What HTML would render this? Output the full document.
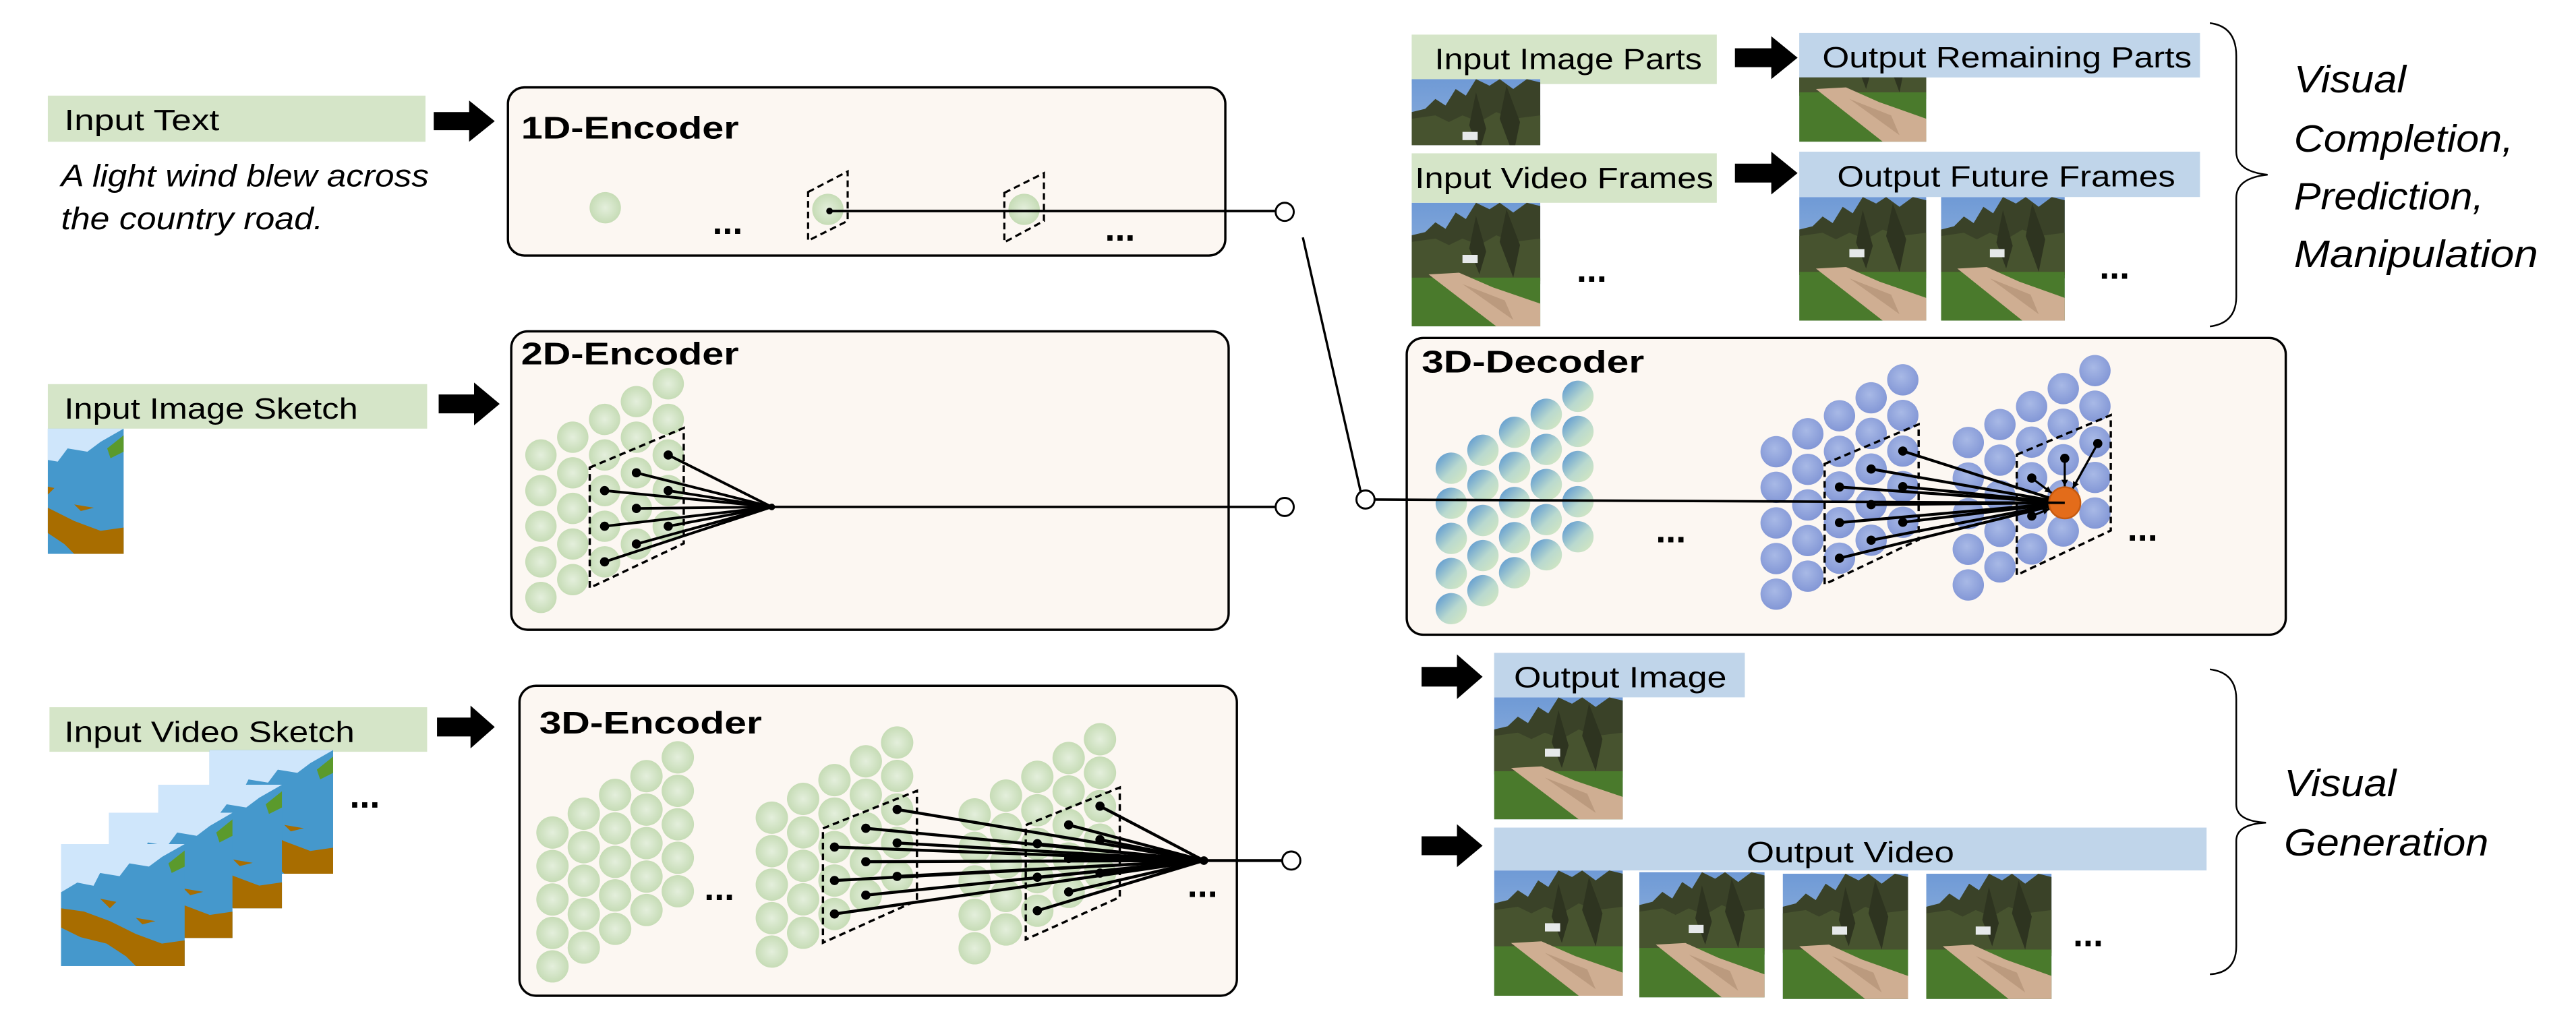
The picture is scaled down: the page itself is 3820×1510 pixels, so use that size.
<!DOCTYPE html>
<html><head><meta charset="utf-8">
<style>
html,body{margin:0;padding:0;background:#fff;}
svg{display:block;}
text{font-family:"Liberation Sans",sans-serif;}
</style></head>
<body>
<svg id="s" xmlns="http://www.w3.org/2000/svg" width="3820" height="1510" viewBox="0 0 1562 617.5" preserveAspectRatio="none">
<defs>
<radialGradient id="gG" cx="50%" cy="50%" r="55%"><stop offset="0" stop-color="#e4efdc"/><stop offset="1" stop-color="#c3dab2"/></radialGradient>
<radialGradient id="gB" cx="45%" cy="40%" r="60%"><stop offset="0" stop-color="#a8b9e6"/><stop offset="1" stop-color="#8397d6"/></radialGradient>
<linearGradient id="gD" x1="0" y1="0" x2="1" y2="1"><stop offset="0" stop-color="#4f8fd0"/><stop offset="0.55" stop-color="#b9d9cf"/><stop offset="1" stop-color="#d8eabf"/></linearGradient>
<linearGradient id="sky" x1="0" y1="0" x2="0" y2="1"><stop offset="0" stop-color="#6f9ad6"/><stop offset="1" stop-color="#a8c2e0"/></linearGradient>
<g id="ph">
<rect x="0" y="0" width="76" height="76" fill="url(#sky)"/>
<path d="M0 20 L8 18 L14 12 L20 16 L26 6 L32 10 L38 0 L46 4 L52 0 L60 6 L68 0 L76 2 L76 50 L0 48 Z" fill="#3a4228"/>
<path d="M0 24 L14 22 L22 26 L30 22 L40 26 L50 20 L60 24 L76 22 L76 48 L0 46 Z" fill="#47532f"/>
<path d="M38 8 L44 30 L40 44 L34 28 Z M56 4 L64 26 L60 46 L52 24 Z" fill="#2e3420"/>
<rect x="30" y="32" width="9" height="5" fill="#e6e9ea"/>
<rect x="0" y="46" width="76" height="30" fill="#4a7a2c"/>
<path d="M10 44 L28 43 L48 52 L76 62 L76 76 L50 76 Z" fill="#cfae92"/>
<path d="M30 50 L55 60 L60 72 Z" fill="#bb9a7e"/>
</g>
<g id="sk">
<rect x="0" y="0" width="76" height="76" fill="#4598cc"/>
<path d="M0 0 L76 0 L62 8 L54 14 L42 12 L36 20 L24 18 L20 26 L10 24 L0 30 Z" fill="#cfe6fb"/>
<path d="M0 40 L14 42 L30 48 L46 56 L62 62 L76 60 L76 76 L46 76 L40 70 L28 62 L12 58 L0 52 Z" fill="#a86d00"/>
<path d="M24 34 L34 36 L30 40 Z M46 46 L58 48 L50 50 Z" fill="#a86d00"/>
<path d="M66 12 L76 4 L76 14 L68 18 Z" fill="#5b9a2c"/>
</g>
</defs>

<rect x="29" y="58" width="229" height="28" fill="#d5e5c8"/>
<text x="39" y="79" font-size="18" textLength="94" lengthAdjust="spacingAndGlyphs">Input Text</text>
<text x="37" y="113" font-size="19" font-style="italic" textLength="223" lengthAdjust="spacingAndGlyphs">A light wind blew across</text>
<text x="37" y="139" font-size="19" font-style="italic" textLength="159" lengthAdjust="spacingAndGlyphs">the country road.</text>

<rect x="29" y="233" width="230" height="27" fill="#d5e5c8"/>
<text x="39" y="254" font-size="18" textLength="178" lengthAdjust="spacingAndGlyphs">Input Image Sketch</text>
<svg x="29" y="260" width="46" height="76" viewBox="30 0 46 76" preserveAspectRatio="none"><use href="#sk"/></svg>

<rect x="30" y="429" width="229" height="27" fill="#d5e5c8"/>
<text x="39" y="450" font-size="18" textLength="176" lengthAdjust="spacingAndGlyphs">Input Video Sketch</text>
<svg x="127" y="455" width="75" height="75" viewBox="0 0 76 76" preserveAspectRatio="none"><use href="#sk"/></svg>
<svg x="96" y="476" width="75" height="75" viewBox="0 0 76 76" preserveAspectRatio="none"><use href="#sk"/></svg>
<svg x="66" y="493" width="75" height="76" viewBox="0 0 76 76" preserveAspectRatio="none"><use href="#sk"/></svg>
<svg x="37" y="512" width="75" height="74" viewBox="0 0 76 76" preserveAspectRatio="none"><use href="#sk"/></svg>
<text x="212" y="490" font-size="22" font-weight="bold">...</text>

<g fill="#000" id="arrows"></g>

<rect x="308" y="53" width="435" height="102" rx="10" fill="#fcf7f2" stroke="#000" stroke-width="1.4"/>
<text x="316" y="84" font-size="19" font-weight="bold" textLength="132" lengthAdjust="spacingAndGlyphs">1D-Encoder</text>
<rect x="310" y="201" width="435" height="181" rx="10" fill="#fcf7f2" stroke="#000" stroke-width="1.4"/>
<text x="316" y="221" font-size="19" font-weight="bold" textLength="132" lengthAdjust="spacingAndGlyphs">2D-Encoder</text>
<rect x="315" y="416" width="435" height="188" rx="10" fill="#fcf7f2" stroke="#000" stroke-width="1.4"/>
<text x="327" y="445" font-size="19" font-weight="bold" textLength="135" lengthAdjust="spacingAndGlyphs">3D-Encoder</text>
<rect x="853" y="205" width="533" height="180" rx="10" fill="#fcf7f2" stroke="#000" stroke-width="1.4"/>
<text x="862" y="226" font-size="19" font-weight="bold" textLength="135" lengthAdjust="spacingAndGlyphs">3D-Decoder</text>

<g id="dyn"></g>

<ellipse cx="367" cy="126" rx="9.5" ry="9.5" fill="url(#gG)"/>
<ellipse cx="502" cy="127" rx="9.5" ry="9.5" fill="url(#gG)"/>
<ellipse cx="621" cy="127" rx="9.5" ry="9.5" fill="url(#gG)"/>
<path d="M490 116.5 L514 104 L514 134 L490 146 Z" fill="none" stroke="#000" stroke-width="1.3" stroke-dasharray="4,2.5"/>
<path d="M609 117 L633 105 L633 134 L609 147 Z" fill="none" stroke="#000" stroke-width="1.3" stroke-dasharray="4,2.5"/>
<line x1="503" y1="128" x2="773" y2="128" stroke="#000" stroke-width="1.5"/>
<circle cx="503" cy="128" r="2" fill="#000"/>
<text x="432" y="142" font-size="22" font-weight="bold">...</text>
<text x="670" y="146" font-size="22" font-weight="bold">...</text>
<circle cx="779" cy="128.5" r="5.5" fill="#fff" stroke="#000" stroke-width="1.2"/>

<line x1="790" y1="144" x2="825" y2="298" stroke="#000" stroke-width="1.4"/>
<line x1="468" y1="307.5" x2="773" y2="307.5" stroke="#000" stroke-width="1.5"/>
<circle cx="779" cy="307.5" r="5.5" fill="#fff" stroke="#000" stroke-width="1.2"/>
<line x1="833" y1="303" x2="1252" y2="305" stroke="#000" stroke-width="1.5"/>
<circle cx="828" cy="303" r="5.5" fill="#fff" stroke="#000" stroke-width="1.2"/>
<line x1="730" y1="522" x2="778" y2="522" stroke="#000" stroke-width="1.8"/>
<circle cx="783" cy="522" r="5.5" fill="#fff" stroke="#000" stroke-width="1.2"/>
<text x="427" y="546" font-size="22" font-weight="bold">...</text>
<text x="720" y="544" font-size="22" font-weight="bold">...</text>
<text x="1004" y="329" font-size="22" font-weight="bold">...</text>
<text x="1290" y="328" font-size="22" font-weight="bold">...</text>

<rect x="856" y="21" width="185" height="30" fill="#d5e5c8"/>
<text x="870" y="42" font-size="18" textLength="162" lengthAdjust="spacingAndGlyphs">Input Image Parts</text>
<svg x="856" y="48" width="78" height="40" viewBox="0 0 76 40" preserveAspectRatio="none"><use href="#ph"/></svg>
<rect x="1091" y="20" width="243" height="27" fill="#c0d5ea"/>
<text x="1105" y="41" font-size="18" textLength="224" lengthAdjust="spacingAndGlyphs">Output Remaining Parts</text>
<svg x="1091" y="47" width="77" height="39" viewBox="0 37 76 39" preserveAspectRatio="none"><use href="#ph"/></svg>

<rect x="856" y="93" width="185" height="30" fill="#d5e5c8"/>
<text x="858" y="114" font-size="18" textLength="181" lengthAdjust="spacingAndGlyphs">Input Video Frames</text>
<svg x="856" y="123" width="78" height="75" viewBox="0 0 76 76" preserveAspectRatio="none"><use href="#ph"/></svg>
<text x="956" y="171" font-size="22" font-weight="bold">...</text>
<rect x="1091" y="92" width="243" height="27.5" fill="#c0d5ea"/>
<text x="1114" y="113" font-size="18" textLength="205" lengthAdjust="spacingAndGlyphs">Output Future Frames</text>
<svg x="1091" y="119.5" width="77" height="75" viewBox="0 0 76 76" preserveAspectRatio="none"><use href="#ph"/></svg>
<svg x="1177" y="119.5" width="75" height="75" viewBox="0 0 76 76" preserveAspectRatio="none"><use href="#ph"/></svg>
<text x="1273" y="169" font-size="22" font-weight="bold">...</text>

<path d="M1340 14 Q1356 16 1356 34 L1356 92 Q1356 104 1375 106 Q1356 108 1356 120 L1356 180 Q1356 196 1340 198" fill="none" stroke="#000" stroke-width="1"/>
<g font-size="23" font-style="italic">
<text x="1391" y="56" textLength="68" lengthAdjust="spacingAndGlyphs">Visual</text>
<text x="1391" y="92" textLength="133" lengthAdjust="spacingAndGlyphs">Completion,</text>
<text x="1391" y="127" textLength="115" lengthAdjust="spacingAndGlyphs">Prediction,</text>
<text x="1391" y="162" textLength="148" lengthAdjust="spacingAndGlyphs">Manipulation</text>
</g>

<rect x="906" y="396" width="152" height="27" fill="#c0d5ea"/>
<text x="918" y="417" font-size="18" textLength="129" lengthAdjust="spacingAndGlyphs">Output Image</text>
<svg x="906" y="423" width="78" height="74" viewBox="0 0 76 76" preserveAspectRatio="none"><use href="#ph"/></svg>
<rect x="906" y="502" width="432" height="26" fill="#c0d5ea"/>
<text x="1059" y="523" font-size="18" textLength="126" lengthAdjust="spacingAndGlyphs">Output Video</text>
<svg x="906" y="528" width="78" height="76" viewBox="0 0 76 76" preserveAspectRatio="none"><use href="#ph"/></svg>
<svg x="994" y="529" width="76" height="76" viewBox="0 0 76 76" preserveAspectRatio="none"><use href="#ph"/></svg>
<svg x="1081" y="530" width="76" height="76" viewBox="0 0 76 76" preserveAspectRatio="none"><use href="#ph"/></svg>
<svg x="1168" y="530" width="76" height="76" viewBox="0 0 76 76" preserveAspectRatio="none"><use href="#ph"/></svg>
<text x="1257" y="574" font-size="22" font-weight="bold">...</text>
<path d="M1340 406 Q1356 408 1356 424 L1356 488 Q1356 498 1374 499 Q1356 500 1356 510 L1356 574 Q1356 590 1340 591" fill="none" stroke="#000" stroke-width="1"/>
<g font-size="23" font-style="italic">
<text x="1385" y="483" textLength="68" lengthAdjust="spacingAndGlyphs">Visual</text>
<text x="1385" y="519" textLength="124" lengthAdjust="spacingAndGlyphs">Generation</text>
</g>
</svg>
<script>
(function(){
var NS="http://www.w3.org/2000/svg";
var dyn=document.getElementById("dyn");
function el(t,a,p){var e=document.createElementNS(NS,t);for(var k in a)e.setAttribute(k,a[k]);(p||dyn).appendChild(e);return e;}
var arrows=document.getElementById("arrows");
function arrow(x1,x2,y1,y2){var cy=(y1+y2)/2,h=(y2-y1)*0.22,hx=x2-(x2-x1)*0.42;
el("path",{d:"M"+x1+" "+(cy-h)+" L"+hx+" "+(cy-h)+" L"+hx+" "+y1+" L"+x2+" "+cy+" L"+hx+" "+y2+" L"+hx+" "+(cy+h)+" L"+x1+" "+(cy+h)+" Z"},arrows);}
arrow(263,300,61,86);arrow(266,303,232,258);arrow(265,300,428,454);
arrow(1052,1090,22,48);arrow(1052,1090,92,118);arrow(862,899,397,424);arrow(862,899,500,526);
function grid(ox,oy,csx,csy,rs,nc,nr,fill,r){var pts=[];for(var c=0;c<nc;c++){pts[c]=[];for(var i=0;i<nr;i++){var x=ox+c*csx,y=oy+c*csy+i*rs;pts[c][i]=[x,y];}}
for(var c=0;c<nc;c++)for(var i=0;i<nr;i++)el("ellipse",{cx:pts[c][i][0],cy:pts[c][i][1],rx:r,ry:r,fill:fill});return pts;}
function para(p,sx,sy){var x=p[0],y=p[1];el("path",{d:"M"+(x-9*sx)+" "+(y-14*sy)+" L"+(x+48*sx)+" "+(y-38*sy)+" L"+(x+48*sx)+" "+(y+32*sy)+" L"+(x-9*sx)+" "+(y+59*sy)+" Z",fill:"none",stroke:"#000","stroke-width":1.4,"stroke-dasharray":"4,2.5"});}
function fan(pts,tx,ty,w){for(var c=2;c<5;c++)for(var i=2;i<5;i++){var p=pts[c][i];
el("line",{x1:p[0],y1:p[1],x2:tx,y2:ty,stroke:"#000","stroke-width":w||1.6});el("circle",{cx:p[0],cy:p[1],r:2.8,fill:"#000"});}}
var g2=grid(328,276,19.3,-10.8,21.6,5,5,"url(#gG)",9.5);
para(g2[2][2],1,1);fan(g2,468,307.5);el("circle",{cx:468,cy:307.5,r:2,fill:"#000"});
grid(335,505,19,-11.4,20.3,5,5,"url(#gG)",9.8);
var gb=grid(468,496,19,-11.4,20.3,5,5,"url(#gG)",9.8);
var gc=grid(591,494,19,-11.4,20.3,5,5,"url(#gG)",9.8);
para([gb[2][2][0]+2,gb[2][2][1]+2],1,0.95);para([gc[2][2][0]+2,gc[2][2][1]+2],1,0.95);
fan(gb,730,522,1.8);fan(gc,730,522,1.8);el("circle",{cx:730,cy:522,r:2.6,fill:"#000"});
grid(880,284,19.2,-10.9,21.3,5,5,"url(#gD)",9.5);
var d2=grid(1077,274,19.2,-10.9,21.6,5,5,"url(#gB)",9.5);
var d3=grid(1193.5,268.4,19.2,-10.9,21.6,5,5,"url(#gB)",9.5);
para(d2[2][2],1,1);para(d3[2][2],1,1);
fan(d2,1252,305,1.7);
el("ellipse",{cx:1252,cy:305,rx:9.5,ry:9.5,fill:"#e36c1a",stroke:"#c55a10","stroke-width":1});
var ar=[[1232,290],[1232,313],[1252,278],[1272,269]];
ar.forEach(function(p){var dx=1252-p[0],dy=305-p[1],L=Math.sqrt(dx*dx+dy*dy),ex=1252-dx/L*10,ey=305-dy/L*10;
el("line",{x1:p[0],y1:p[1],x2:ex,y2:ey,stroke:"#000","stroke-width":1.3});
var ux=dx/L,uy=dy/L;el("path",{d:"M"+ex+" "+ey+" L"+(ex-ux*4-uy*2)+" "+(ey-uy*4+ux*2)+" L"+(ex-ux*4+uy*2)+" "+(ey-uy*4-ux*2)+" Z",fill:"#000"});
el("circle",{cx:p[0],cy:p[1],r:2.8,fill:"#000"});});
})();
</script>
</body></html>
